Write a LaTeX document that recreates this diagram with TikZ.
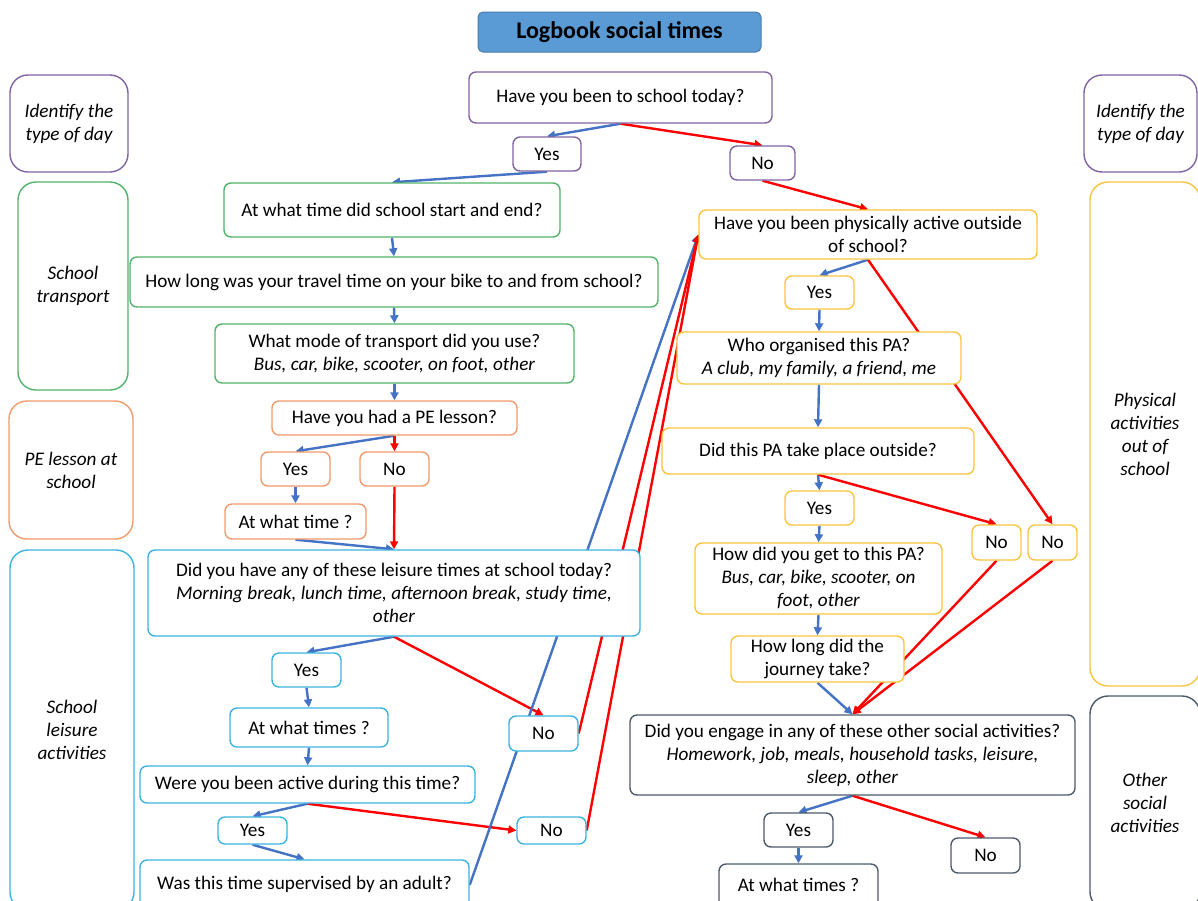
\documentclass[tikz,border=0pt]{standalone}
\usepackage{fontspec}
\setmainfont{Carlito}
\usetikzlibrary{arrows.meta,backgrounds}
\definecolor{cpur}{HTML}{8064A2}
\definecolor{cgrn}{HTML}{52B36A}
\definecolor{corg}{HTML}{F19A6B}
\definecolor{ccya}{HTML}{3BB3E0}
\definecolor{cyel}{HTML}{F9C440}
\definecolor{cgry}{HTML}{4D5A6B}
\definecolor{cblu}{HTML}{4472C4}
\definecolor{cred}{HTML}{FF0000}
\definecolor{ctit}{HTML}{5B9BD5}
\newcommand\qfont{\fontsize{19.2}{23}\selectfont}
\newcommand\bx[7]{%
  \pgfmathsetmacro\bxw{#5-#3}\pgfmathsetmacro\bxh{#6-#4}%
  \pgfmathsetmacro\bxx{(#3+#5)/2}\pgfmathsetmacro\bxy{(#4+#6)/2}%
  \node[#2,minimum width=\bxw pt,minimum height=\bxh pt] (#1) at (\bxx,\bxy) {#7};}
\begin{document}
\begin{tikzpicture}[x=1pt,y=-1pt,
  box/.style={draw, rounded corners=7pt, line width=1.4pt, inner sep=0pt, align=center, fill=white, font=\qfont},
  pur/.style={box, draw=cpur},
  grn/.style={box, draw=cgrn},
  org/.style={box, draw=corg},
  cya/.style={box, draw=ccya},
  yel/.style={box, draw=cyel},
  gry/.style={box, draw=cgry},
  side/.style={rounded corners=18pt, font=\qfont\itshape},
  titlebox/.style={draw=ctit!80!black, fill=ctit, rounded corners=5pt, line width=1pt, font=\fontsize{24}{28}\selectfont\bfseries},
  ba/.style={draw=cblu, line width=2.4pt, -{Triangle[length=8pt,width=8pt]}},
  ra/.style={draw=cred, line width=2.4pt, -{Triangle[length=8pt,width=8pt]}}
]
\useasboundingbox (0,0) rectangle (1198,900);
\clip (0,0) rectangle (1198,900);
% title
\bx{title}{titlebox}{478}{12}{761}{52}{\raisebox{-2pt}{Logbook social times}}
% side labels
\bx{L1}{pur,side}{10}{75}{128}{172}{Identify the\\type of day}
\bx{L2}{grn,side}{18}{182}{128}{390}{School\\transport}
\bx{L3}{org,side}{9}{401}{133}{539}{PE lesson at\\school}
\bx{L4}{cya,side}{10}{550}{134}{910}{School\\leisure\\activities}
\bx{R1}{pur,side}{1084}{75}{1197}{172}{Identify the\\type of day}
\bx{R2}{yel,side}{1090}{182}{1200}{686}{Physical\\activities\\out of\\school}
\bx{R3}{gry,side}{1090}{696}{1200}{910}{Other\\social\\activities}
% top
\bx{q1}{pur}{469}{72}{772}{123}{Have you been to school today?}
\bx{yes1}{pur}{513}{137}{581}{171}{Yes}
\bx{no1}{pur}{730}{146}{795}{180}{No}
% school branch
\bx{g1}{grn}{224}{183}{560}{237}{At what time did school start and end?}
\bx{g2}{grn}{130}{257}{658}{307}{How long was your travel time on your bike to and from school?}
\bx{g3}{grn}{215}{324}{574}{383}{What mode of transport did you use?\\\textit{Bus, car, bike, scooter, on foot, other}}
\bx{pe}{org}{272}{401}{517}{435}{Have you had a PE lesson?}
\bx{yes2}{org}{261}{452}{330}{486}{Yes}
\bx{no2}{org}{360}{452}{429}{486}{No}
\bx{pet}{org}{225}{504}{366}{539}{At what time ?}
\bx{lei}{cya}{148}{550}{640}{636}{Did you have any of these leisure times at school today?\\\textit{Morning break, lunch time, afternoon break, study time,}\\\textit{other}}
\bx{yes3}{cya}{272}{653}{341}{687}{Yes}
\bx{ltimes}{cya}{230}{708}{388}{747}{At what times ?}
\bx{no3}{cya}{509}{716}{578}{751}{No}
\bx{act}{cya}{140}{766}{475}{803}{Were you been active during this time?}
\bx{yes4}{cya}{218}{817}{287}{844}{Yes}
\bx{no4}{cya}{517}{817}{586}{844}{No}
\bx{sup}{cya}{140}{860}{469}{910}{\raisebox{5pt}{Was this time supervised by an adult?}}
% out of school branch
\bx{pa1}{yel}{699}{210}{1037}{259}{Have you been physically active outside\\of school?}
\bx{yes5}{yel}{785}{276}{854}{309}{Yes}
\bx{who}{yel}{677}{332}{961}{384}{Who organised this PA?\\\textit{A club, my family, a friend, me}}
\bx{out}{yel}{662}{428}{974}{474}{Did this PA take place outside?}
\bx{yes6}{yel}{785}{491}{854}{525}{Yes}
\bx{no5}{yel}{972}{525}{1021}{560}{No}
\bx{no6}{yel}{1028}{525}{1077}{560}{No}
\bx{how}{yel}{695}{543}{942}{614}{How did you get to this PA?\\\textit{Bus, car, bike, scooter, on}\\\textit{foot, other}}
\bx{long}{yel}{731}{636}{904}{682}{How long did the\\journey take?}
\bx{oth}{gry}{630}{715}{1075}{795}{Did you engage in any of these other social activities?\\\textit{Homework, job, meals, household tasks, leisure,}\\\textit{sleep, other}}
\bx{yes7}{gry}{764}{813}{833}{847}{Yes}
\bx{no7}{gry}{951}{838}{1020}{873}{No}
\bx{ot}{gry}{719}{864}{878}{910}{\raisebox{5pt}{At what times ?}}
% connectors
\begin{pgfonlayer}{background}
\draw[ba] (q1.south) -- (yes1.north);
\draw[ra] (q1.south) -- (no1.north);
\draw[ba] (yes1.south) -- (g1.north);
\draw[ra] (no1.south) -- (pa1.north);
\draw[ba] (g1.south) -- (g2.north);
\draw[ba] (g2.south) -- (g3.north);
\draw[ba] (g3.south) -- (pe.north);
\draw[ba] (pe.south) -- (yes2.north);
\draw[ra] (pe.south) -- (no2.north);
\draw[ba] (yes2.south) -- (pet.north);
\draw[ba] (pet.south) -- (lei.north);
\draw[ra] (no2.south) -- (lei.north);
\draw[ba] (lei.south) -- (yes3.north);
\draw[ra] (lei.south) -- (no3.north);
\draw[ba] (yes3.south) -- (ltimes.north);
\draw[ba] (ltimes.south) -- (act.north);
\draw[ba] (act.south) -- (yes4.north);
\draw[ra] (act.south) -- (no4.west);
\draw[ba] (yes4.south) -- (sup.north);
\draw[ba] (sup.east |- 0,885) -- (pa1.west);
\draw[ra] (no3.east) -- (pa1.west);
\draw[ra] (no4.east) -- (pa1.west);
\draw[ba] (pa1.south) -- (yes5.north);
\draw[ra] (pa1.south) -- (no6.north);
\draw[ba] (yes5.south) -- (who.north);
\draw[ba] (who.south) -- (out.north);
\draw[ba] (out.south) -- (yes6.north);
\draw[ra] (out.south) -- (no5.north);
\draw[ba] (yes6.south) -- (how.north);
\draw[ba] (how.south) -- (long.north);
\draw[ba] (long.south) -- (oth.north);
\draw[ra] (no5.south) -- (oth.north);
\draw[ra] (no6.south) -- (oth.north);
\draw[ba] (oth.south) -- (yes7.north);
\draw[ra] (oth.south) -- (no7.north);
\draw[ba] (yes7.south) -- (ot.north);
\end{pgfonlayer}
\end{tikzpicture}
\end{document}
